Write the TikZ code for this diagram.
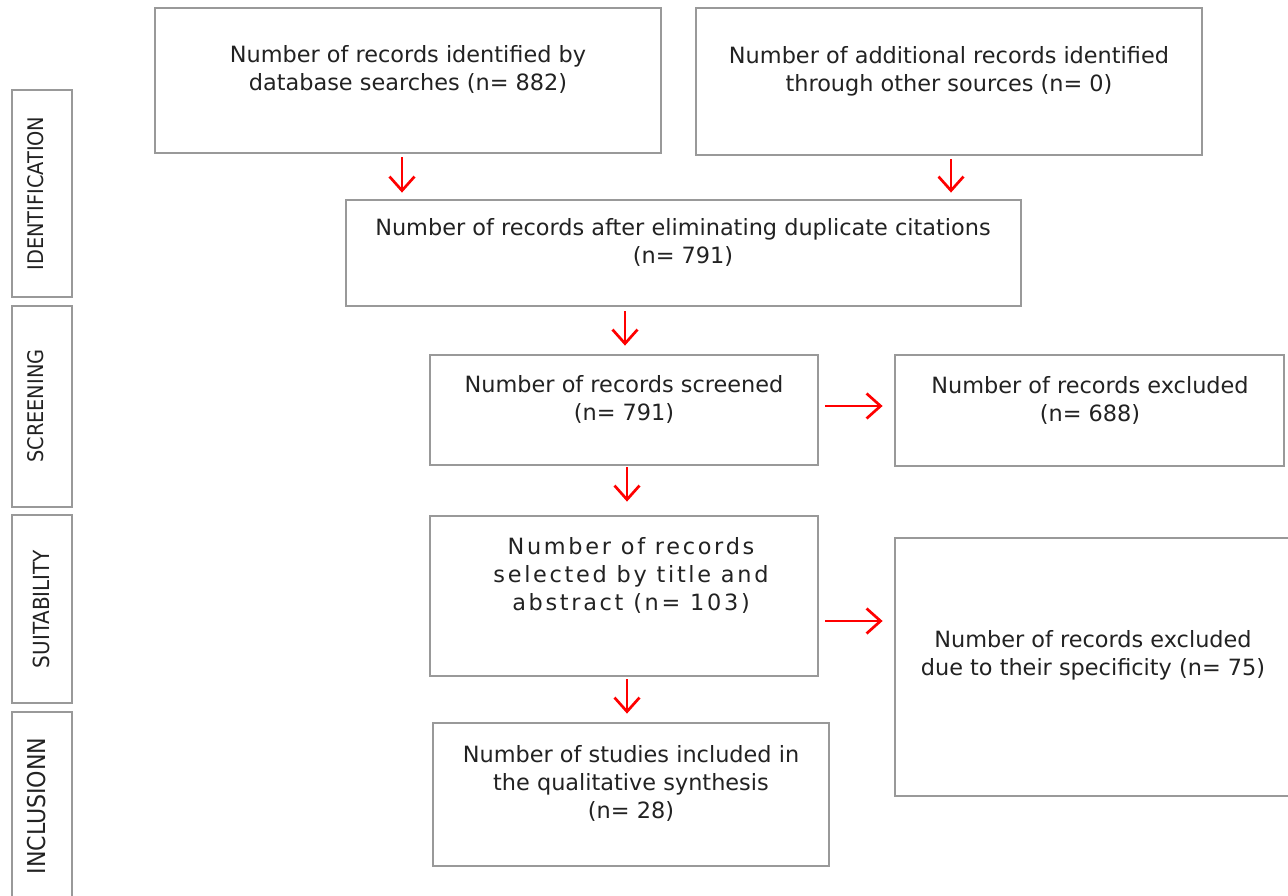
\documentclass[tikz,border=0pt]{standalone}
\usepackage{fontspec}
\setmainfont{DejaVu Sans}
\newfontfamily\condfont{DejaVu Sans Condensed}
\usetikzlibrary{arrows.meta}
\definecolor{boxgray}{HTML}{999999}
\definecolor{txtgray}{HTML}{222222}
\tikzset{
  box/.style={draw=boxgray, line width=2.8pt, rectangle, inner sep=0pt},
  txt/.style={text=txtgray, align=center, font=\fontsize{22.4}{28}\selectfont},
  side/.style={text=txtgray, rotate=90, font=\condfont\fontsize{21.5}{24}\selectfont},
  arr/.style={draw=red, line width=2.7pt, -{Straight Barb[length=14pt,width=25pt]}, shorten <=3pt, shorten >=6pt}
}
\begin{document}
\begin{tikzpicture}[x=1pt, y=-1pt]
\useasboundingbox (0,0) rectangle (1288,896);
% side boxes
\node[box, minimum width=60, minimum height=207] (s1) at (42,193.5) {};
\node[box, minimum width=60, minimum height=201] (s2) at (42,406.5) {};
\node[box, minimum width=60, minimum height=188] (s3) at (42,609) {};
\node[box, minimum width=60, minimum height=220] (s4) at (42,822) {};
\node[side] (l1) at (36,193.5) {IDENTIFICATION};
\node[side] (l2) at (36,406) {SCREENING};
\node[side, font=\condfont\fontsize{22.2}{24}\selectfont] (l3) at (41,609) {SUITABILITY};
\node[side, font=\condfont\fontsize{24.6}{26}\selectfont] (l4) at (37,806) {INCLUSIONN};
% main boxes
\node[box, minimum width=506, minimum height=145] (n1) at (408,80.5) {};
\node[box, minimum width=506, minimum height=147] (n2) at (949,81.5) {};
\node[box, minimum width=675, minimum height=106] (n3) at (683.5,253) {};
\node[box, minimum width=388, minimum height=110] (n4) at (624,410) {};
\node[box, minimum width=389, minimum height=111] (n5) at (1089.5,410.5) {};
\node[box, minimum width=388, minimum height=160] (n6) at (624,596) {};
\node[box, minimum width=420, minimum height=258] (n7) at (1105,667) {};
\node[box, minimum width=396, minimum height=143] (n8) at (631,794.5) {};
% texts
\node[txt] (t1) at (408,69) {Number of records identified by\\database searches (n= 882)};
\node[txt] (t2) at (949,71) {Number of additional records identified\\through other sources (n= 0)};
\node[txt] (t3) at (683,242) {Number of records after eliminating duplicate citations\\(n= 791)};
\node[txt] (t4) at (624,399) {Number of records screened\\(n= 791)};
\node[txt] (t5) at (1090,400) {Number of records excluded\\(n= 688)};
\node[txt, font=\addfontfeature{LetterSpace=12}\fontsize{22.4}{28}\selectfont] (t6) at (631,575) {Number of records\\selected by title and\\abstract (n= 103)};
\node[txt] (t7) at (1093,655) {Number of records excluded\\due to their specificity (n= 75)};
\node[txt] (t8) at (631,783) {Number of studies included in\\the qualitative synthesis\\(n= 28)};
% arrow coordinates
\coordinate (x1) at (402,0);
\coordinate (x2) at (951,0);
\coordinate (x3) at (625,0);
\coordinate (x4) at (627,0);
\coordinate (y5) at (0,406);
\coordinate (y6) at (0,621);
% arrows
\draw[arr] (n1.south -| x1) -- (n3.north -| x1);
\draw[arr] (n2.south -| x2) -- (n3.north -| x2);
\draw[arr, shorten <=4pt, shorten >=8pt] (n3.south -| x3) -- (n4.north -| x3);
\draw[arr, shorten <=1pt, shorten >=13pt] (n4.south -| x4) -- (n6.north -| x4);
\draw[arr, shorten <=6pt, shorten >=11pt] (n4.east |- y5) -- (n5.west |- y5);
\draw[arr, shorten <=6pt, shorten >=11pt] (n6.east |- y6) -- (n7.west |- y6);
\draw[arr, shorten <=2pt, shorten >=8pt] (n6.south -| x4) -- (n8.north -| x4);
\end{tikzpicture}
\end{document}
